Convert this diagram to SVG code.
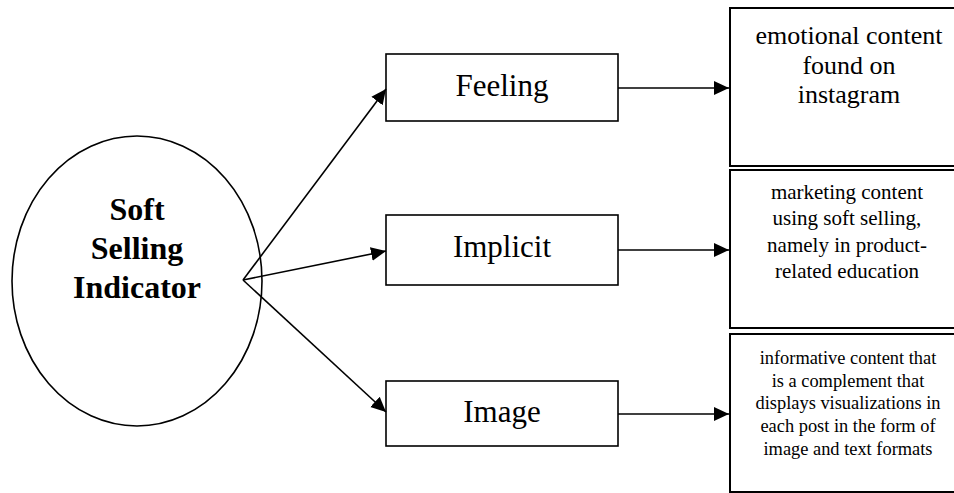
<svg xmlns="http://www.w3.org/2000/svg" width="954" height="493" viewBox="0 0 954 493">
<style>
.bg{fill:#fff}
.shape{fill:#fff;stroke:#000;stroke-width:1.6}
.desc{fill:#fff;stroke:#000;stroke-width:2}
.conn{fill:none;stroke:#000;stroke-width:1.6}
text{font-family:"Liberation Serif","Times New Roman",serif;fill:#000;text-anchor:middle}
.title{font-size:32px;font-weight:bold}
.lbl{font-size:31px}
.t1{font-size:26px}
.t2{font-size:21px}
.t3{font-size:18.4px}
</style>
<defs>
<marker id="arr" markerUnits="userSpaceOnUse" markerWidth="16" markerHeight="16" viewBox="0 0 16 16" refX="15" refY="8" orient="auto">
<path d="M0,1 L15,8 L0,15 Z" fill="#000"/>
</marker>
</defs>
<rect class="bg" x="0" y="0" width="954" height="493"/>
<g id="indicator">
<ellipse class="shape" cx="137" cy="281" rx="125" ry="145"/>
<text class="title" x="137" y="220">Soft</text>
<text class="title" x="137" y="259">Selling</text>
<text class="title" x="137" y="298">Indicator</text>
</g>
<g id="feeling">
<rect class="shape" x="386" y="54" width="232" height="67"/>
<text class="lbl" x="502" y="96">Feeling</text>
</g>
<g id="implicit">
<rect class="shape" x="386" y="215" width="232" height="70"/>
<text class="lbl" x="502" y="257">Implicit</text>
</g>
<g id="image">
<rect class="shape" x="386" y="381" width="232" height="65"/>
<text class="lbl" x="502" y="422">Image</text>
</g>
<g id="desc-feeling">
<rect class="desc" x="730" y="8" width="240" height="158"/>
<text class="t1" x="849" y="44">emotional content</text>
<text class="t1" x="849" y="74">found on</text>
<text class="t1" x="849" y="103">instagram</text>
</g>
<g id="desc-implicit">
<rect class="desc" x="730" y="170" width="240" height="158"/>
<text class="t2" x="847" y="199">marketing content</text>
<text class="t2" x="847" y="225">using soft selling,</text>
<text class="t2" x="847" y="252">namely in product-</text>
<text class="t2" x="847" y="278">related education</text>
</g>
<g id="desc-image">
<rect class="desc" x="730" y="334" width="240" height="158"/>
<text class="t3" x="848" y="364">informative content that</text>
<text class="t3" x="848" y="387">is a complement that</text>
<text class="t3" x="848" y="409">displays visualizations in</text>
<text class="t3" x="848" y="432">each post in the form of</text>
<text class="t3" x="848" y="455">image and text formats</text>
</g>
<g id="connectors">
<line class="conn" x1="243" y1="280" x2="386" y2="89" marker-end="url(#arr)"/>
<line class="conn" x1="243" y1="280" x2="386" y2="251" marker-end="url(#arr)"/>
<line class="conn" x1="243" y1="280" x2="386" y2="412" marker-end="url(#arr)"/>
<line class="conn" x1="618" y1="88" x2="729" y2="88" marker-end="url(#arr)"/>
<line class="conn" x1="618" y1="250" x2="729" y2="250" marker-end="url(#arr)"/>
<line class="conn" x1="618" y1="414" x2="729" y2="414" marker-end="url(#arr)"/>
</g>
</svg>
